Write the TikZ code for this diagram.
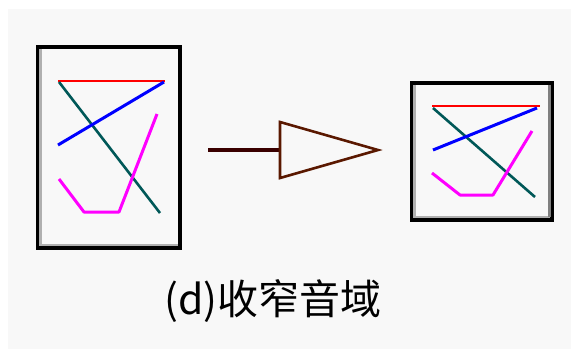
\documentclass[tikz,border=0pt]{standalone}
\usepackage{fontspec}
\newfontfamily\cjkfont{Noto Sans CJK SC}
\definecolor{bggray}{HTML}{F8F8F8}
\definecolor{bevel}{HTML}{B0B0B0}
\definecolor{tealc}{HTML}{005858}
\definecolor{shaftc}{HTML}{3A0000}
\definecolor{tric}{HTML}{5A1800}
\definecolor{redc}{HTML}{FF0000}
\definecolor{bluec}{HTML}{0000FF}
\definecolor{magc}{HTML}{FF00FF}
\tikzset{
  frame/.style={draw=black, line width=3.5pt, fill=bggray, inner sep=0pt},
  redl/.style={draw=redc, line width=2.6pt},
  bluel/.style={draw=bluec, line width=3pt},
  teall/.style={draw=tealc, line width=2.6pt},
  magl/.style={draw=magc, line width=3pt, line join=round},
  bevell/.style={draw=bevel, line width=2.5pt},
}
\begin{document}
\begin{tikzpicture}[x=1pt,y=-1pt]
\useasboundingbox (0,0) rectangle (571,349);
\fill[white] (0,0) rectangle (571,349);
\fill[bggray] (8,9) rectangle (571,349);
% left frame
\node[frame, minimum width=142pt, minimum height=201pt] (L) at (109,147.5) {};
\draw[bevell] ([xshift=4pt,yshift=-3.5pt]L.north west) -- ([xshift=4pt,yshift=5pt]L.south west) -- ([xshift=-3.5pt,yshift=5pt]L.south east);
\draw[redl] (58,81) -- (165,81);
\draw[teall] (59,82) -- (160,213);
\draw[bluel] (58,145) -- (164,82);
\draw[magl] (59,179) -- (84,212) -- (119,212) -- (157,114);
% right frame
\node[frame, minimum width=140pt, minimum height=137pt] (R) at (482,151.5) {};
\draw[bevell] ([xshift=4pt,yshift=-3.5pt]R.north west) -- ([xshift=4pt,yshift=5pt]R.south west) -- ([xshift=-3.5pt,yshift=5pt]R.south east);
\draw[draw=gray, line width=2.5pt] ([xshift=-4.5pt,yshift=-3.5pt]R.north east) -- ([xshift=-4.5pt,yshift=5pt]R.south east);
\draw[redl] (432,106) -- (540,106);
\draw[teall] (433,108) -- (535,197);
\draw[bluel] (433,150) -- (537,108);
\draw[magl] (432,173) -- (460,195) -- (493,195) -- (532,131);
% arrow
\coordinate (s) at (208,150);
\coordinate (t1) at (280,122);
\coordinate (t2) at (280,178);
\coordinate (tip) at (378,150);
\coordinate (tb) at (280,150);
\draw[shaftc, line width=4.5pt] (s) -- (tb);
\draw[tric, line width=2.6pt, line join=miter] (t1) -- (tip) -- (t2) -- cycle;
% caption
\node[font=\cjkfont\fontsize{41}{41}\selectfont, inner sep=0pt] (cap) at (273,301) {(d)收窄音域};
\end{tikzpicture}
\end{document}
